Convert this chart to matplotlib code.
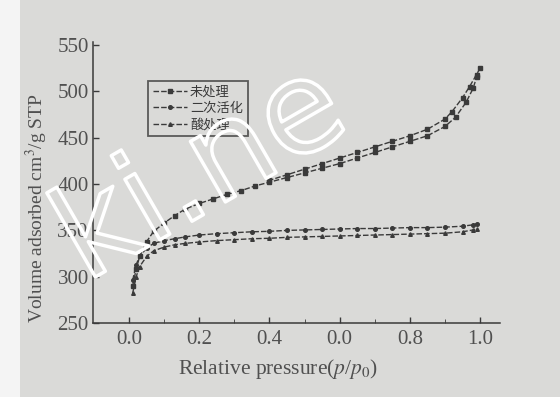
import matplotlib
matplotlib.use('Agg')
from matplotlib import pyplot as plt
from matplotlib.patches import Rectangle
import matplotlib.patheffects as pe
import numpy as np

plt.rcParams['font.family'] = ['Liberation Serif', 'Noto Sans CJK SC', 'DejaVu Sans']
plt.rcParams['mathtext.fontset'] = 'stix'

p_top = [0.01, 0.02, 0.03, 0.05, 0.07, 0.10, 0.13, 0.16, 0.20, 0.24, 0.28, 0.32, 0.36,
         0.40, 0.45, 0.50, 0.55, 0.60, 0.65, 0.70, 0.75, 0.80, 0.85, 0.90, 0.93, 0.96,
         0.98, 0.99]
v_top = [290, 308, 322, 338, 349, 358, 366, 373, 379, 384, 389, 393, 398,
         402, 407, 412, 417, 422, 428, 434, 440, 446, 452, 462, 472, 488,
         503, 515]
p_top_des = [1.0, 0.99, 0.97, 0.95, 0.92, 0.90, 0.85, 0.80, 0.75, 0.70, 0.65, 0.60,
             0.55, 0.50, 0.45, 0.40]
v_top_des = [525, 518, 505, 493, 478, 470, 459, 452, 446, 440, 434, 428,
             422, 416, 410, 404]

p_low = [0.01, 0.02, 0.03, 0.05, 0.07, 0.10, 0.13, 0.16, 0.20, 0.25, 0.30, 0.35, 0.40,
         0.45, 0.50, 0.55, 0.60, 0.65, 0.70, 0.75, 0.80, 0.85, 0.90, 0.95, 0.98, 0.99]
v_a = [296, 313, 322, 331, 336, 339, 341, 343, 345, 346.5, 347.5, 348.5, 349,
       350, 350.5, 351, 351.5, 352, 352, 352.5, 353, 353, 353.5, 354.5, 356, 357]
v_b = [282, 300, 311, 322, 328, 332, 334.5, 336, 337.5, 339, 340, 341, 341.5,
       342.5, 343, 343.5, 344, 344.5, 345, 345.5, 346, 346.5, 347, 348.5, 350.5, 352]

labels = ['未处理', '二次活化', '酸处理']
xticks = [0.0, 0.2, 0.4, 0.6, 0.8, 1.0]
xticklabels = ['0.0', '0.2', '0.4', '0.0', '0.8', '1.0']
yticks = [250, 300, 350, 400, 450, 500, 550]

bg = '#dadad8'
ink = '#3a3a3a'
txt = '#505050'

fig = plt.figure(figsize=(5.6, 3.97), dpi=100, facecolor=bg)
fig.patches.append(Rectangle((0, 0), 20 / 560, 1, transform=fig.transFigure,
                             facecolor='#f4f4f4', edgecolor='none', zorder=-10))
ax = fig.add_axes([0.166, 0.186, 0.727, 0.708])
ax.set_facecolor(bg)

kw = dict(color=ink, lw=1.0, ls=(0, (4, 1.5)), ms=2.6)
ax.plot(p_top, v_top, marker='s', label=labels[0], **kw)
ax.plot(p_top_des, v_top_des, marker='s', **kw)
ax.plot(p_low, v_a, marker='o', label=labels[1], **kw)
ax.plot(p_low, v_b, marker='^', label=labels[2], **kw)

ax.set_xlim(-0.103, 1.057)
ax.set_ylim(250, 553)
ax.set_xticks(xticks)
ax.set_xticklabels(xticklabels)
ax.set_xticks(np.arange(0.1, 1.0, 0.2), minor=True)
ax.set_yticks(yticks)
for s in ['top', 'right']:
    ax.spines[s].set_visible(False)
for s in ['left', 'bottom']:
    ax.spines[s].set_color(ink)
    ax.spines[s].set_linewidth(1.1)
ax.tick_params(direction='in', length=4, colors=ink, labelcolor=txt, labelsize=15, width=1)
ax.tick_params(which='minor', direction='in', length=3, colors=ink)
ax.tick_params(axis='y', pad=3)
ax.tick_params(axis='x', pad=5)

ax.set_xlabel(r'Relative pressure($p$/$p_0$)', fontsize=15.5, color=txt)
ax.set_ylabel(r'Volume adsorbed cm$^3$/g STP', fontsize=14, color=txt)
ax.xaxis.set_label_coords(0.455, -0.12)
ax.yaxis.set_label_coords(-0.105, 0.41)

leg = ax.legend(loc='upper left', bbox_to_anchor=(0.12, 0.885),
                frameon=True, fancybox=False, edgecolor=ink, facecolor=bg,
                handlelength=2.6, handletextpad=0.2, borderpad=0.35,
                labelspacing=0.25, prop={'family': ['Noto Sans CJK SC'], 'size': 9.5})
leg.get_frame().set_linewidth(1.3)
for t in leg.get_texts():
    t.set_color(ink)

wm = fig.text(0.36, 0.56, 'ki.ne', fontsize=92, rotation=30, color='none',
              family='DejaVu Sans', ha='center', va='center')
wm.set_path_effects([pe.withStroke(linewidth=2.5, foreground='white')])

fig.savefig('out.png', dpi=100, facecolor=bg)
